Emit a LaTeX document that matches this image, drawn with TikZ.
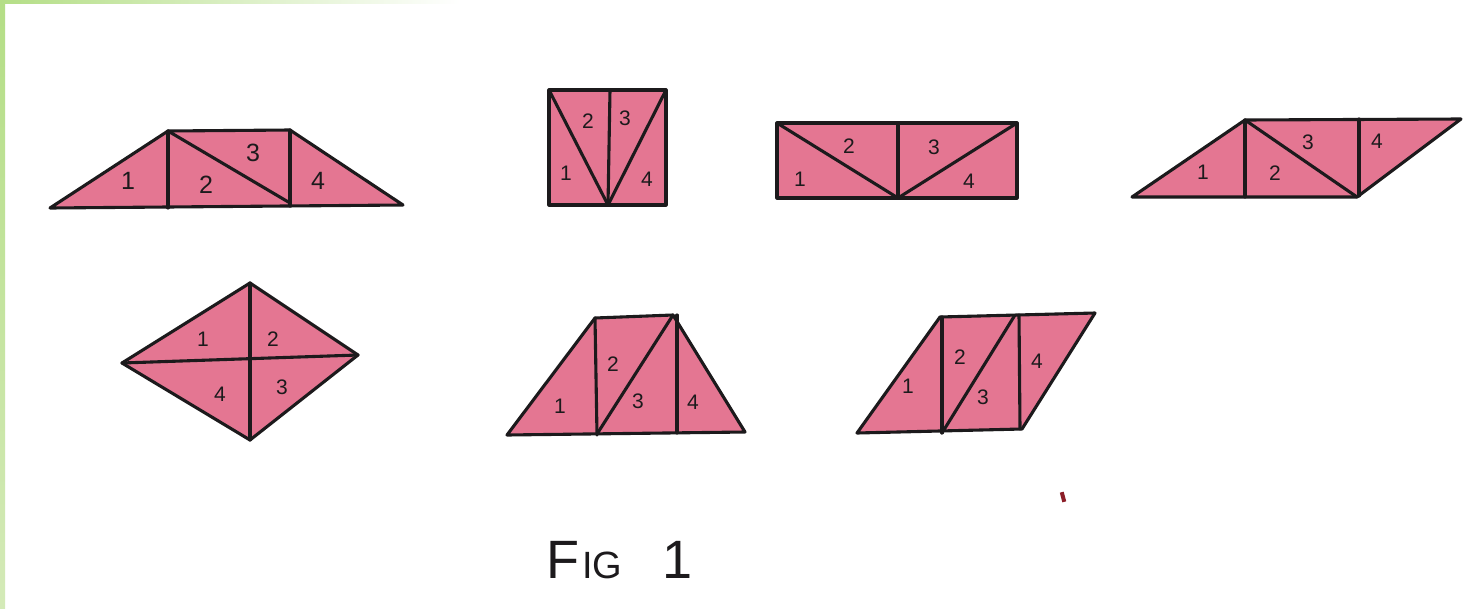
\documentclass[tikz,border=0pt]{standalone}
\usepackage{fontspec}
\setmainfont{Liberation Sans}
\begin{document}
\begin{tikzpicture}[x=1pt,y=-1pt,line join=round,line cap=round]
\definecolor{pinkfill}{RGB}{228,118,146}
\definecolor{inkc}{RGB}{28,26,28}
\definecolor{greenA}{RGB}{180,222,134}
\definecolor{greenB}{RGB}{212,234,184}
\definecolor{markred}{RGB}{140,30,40}
\tikzset{
  piece/.style={fill=pinkfill,draw=inkc,line width=3.1pt},
  edge/.style={draw=inkc,line width=3.1pt},
  lab/.style={text=inkc,font=\fontsize{21}{21}\selectfont,inner sep=0pt},
  labbig/.style={text=inkc,font=\fontsize{25}{25}\selectfont,inner sep=0pt}
}
% canvas
\fill[white] (0,0) rectangle (1463,608);
\useasboundingbox (0,0) rectangle (1463,608);
\shade[top color=greenA,bottom color=greenB] (0,0) rectangle (5,608);
\shade[left color=greenA,right color=white] (0,0) rectangle (460,3);

% Shape A: trapezoid
\path[piece] (50,208) -- (168,131) -- (290,130) -- (403,205) -- cycle;
\draw[edge] (168,131) -- (168,208);
\draw[edge] (290,130) -- (290,206);
\draw[edge] (168,131) -- (290,203);
\node[labbig] (a1) at (128,181) {1};
\node[labbig] (a2) at (206,185) {2};
\node[labbig] (a3) at (253,153) {3};
\node[labbig] (a4) at (318,181) {4};

% Shape B: square
\path[piece] (549,90) rectangle (666,205);
\draw[edge] (610,90) -- (608,205);
\draw[edge] (549,90) -- (608,205) -- (666,90);
\node[lab] (b1) at (566,173) {1};
\node[lab] (b2) at (588,121) {2};
\node[lab] (b3) at (625,118) {3};
\node[lab] (b4) at (647,179) {4};

% Shape C: rectangle
\path[piece] (777,123) rectangle (1017,198);
\draw[edge] (898,123) -- (898,198);
\draw[edge] (777,123) -- (898,198) -- (1017,123);
\node[lab] (c1) at (800,179) {1};
\node[lab] (c2) at (849,146) {2};
\node[lab] (c3) at (934,147) {3};
\node[lab] (c4) at (969,181) {4};

% Shape D: parallelogram
\path[piece] (1132,197) -- (1245,120) -- (1461,119) -- (1357,197) -- cycle;
\draw[edge] (1245,120) -- (1245,197);
\draw[edge] (1359,119) -- (1359,196);
\draw[edge] (1245,120) -- (1357,197);
\node[lab] (d1) at (1203,172) {1};
\node[lab] (d2) at (1275,173) {2};
\node[lab] (d3) at (1308,142) {3};
\node[lab] (d4) at (1377,141) {4};

% Shape E: rhombus
\path[piece] (122,363) -- (250,283) -- (358,355) -- (250,440) -- cycle;
\draw[edge] (250,283) -- (250,440);
\draw[edge] (122,363) -- (358,355);
\node[lab] (e1) at (203,339) {1};
\node[lab] (e2) at (273,339) {2};
\node[lab] (e3) at (282,387) {3};
\node[lab] (e4) at (220,394) {4};

% Shape F: trapezoid
\path[piece] (507,435) -- (595,318) -- (673,315) -- (745,432) -- cycle;
\draw[edge] (595,318) -- (597,435);
\draw[edge] (673,315) -- (597,434);
\draw[edge] (677,315) -- (677,433);
\node[lab] (f1) at (560,406) {1};
\node[lab] (f2) at (613,364) {2};
\node[lab] (f3) at (638,401) {3};
\node[lab] (f4) at (693,402) {4};

% Shape G: parallelogram
\path[piece] (857,433) -- (940,317) -- (1095,313) -- (1022,429) -- cycle;
\draw[edge] (942,317) -- (942,433);
\draw[edge] (1015,315) -- (942,433);
\draw[edge] (1019,315) -- (1020,429);
\node[lab] (g1) at (908,386) {1};
\node[lab] (g2) at (960,357) {2};
\node[lab] (g3) at (983,397) {3};
\node[lab] (g4) at (1037,361) {4};

% caption
\node[anchor=base west,inner sep=0pt,text=inkc] (cap) at (546,578)
  {\fontsize{54}{54}\selectfont F\hspace{3pt}\fontsize{38}{38}\selectfont IG\hspace{40pt}\fontsize{54}{54}\selectfont 1};

% stray mark
\fill[markred,rotate around={15:(1063,497)}] (1061,492) rectangle (1065,502);
\end{tikzpicture}
\end{document}
